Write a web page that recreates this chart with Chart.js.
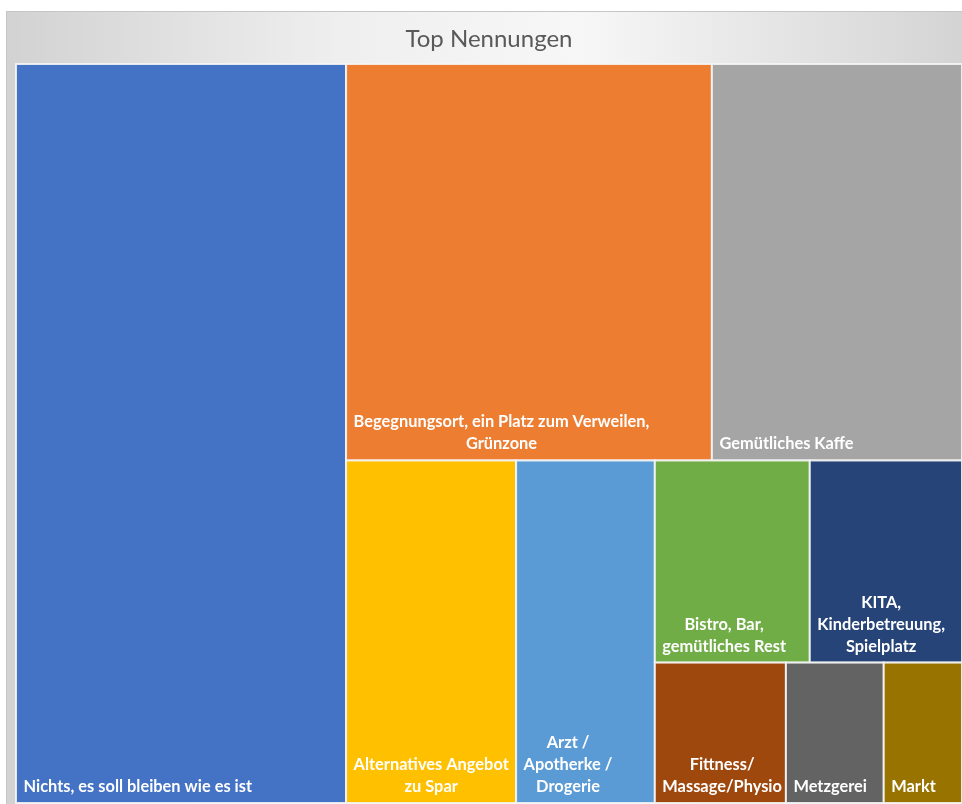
<!DOCTYPE html>
<html>
<head>
<meta charset="utf-8">
<script src="https://cdn.jsdelivr.net/npm/chart.js@4.4.1/dist/chart.umd.min.js"></script>
<style>
  html, body { margin: 0; padding: 0; background: #fff; }
  #wrap { width: 962px; height: 804px; }
</style>
</head>
<body>
<div id="wrap"><canvas id="treemapChart"></canvas></div>
<script>
// Top Nennungen – treemap (largest first)
const categories = [
  ['Nichts, es soll bleiben wie es ist'],
  ['Begegnungsort, ein Platz zum Verweilen,', 'Grünzone'],
  ['Gemütliches Kaffe'],
  ['Alternatives Angebot', 'zu Spar'],
  ['Arzt /', 'Apotherke /', 'Drogerie'],
  ['Bistro, Bar,', 'gemütliches Rest'],
  ['KITA,', 'Kinderbetreuung,', 'Spielplatz'],
  ['Fittness/', 'Massage/Physio'],
  ['Metzgerei'],
  ['Markt']
];
const values = [88.8, 52.8, 36.1, 21.2, 17.3, 11.4, 11.2, 6.7, 5, 4];
const cellColors = ['#4472C4', '#ED7D31', '#A5A5A5', '#FFC000', '#5B9BD5',
                    '#70AD47', '#264478', '#9E480E', '#636363', '#997300'];

function worstRatio(row, side) {
  const sum = row.reduce((s, it) => s + it.a, 0);
  const t = sum / side;
  return Math.max(...row.map(it => { const l = it.a / t; return Math.max(l / t, t / l); }));
}

// strip layout: wide region -> one item as a column, tall region -> row that grows while it gets squarer
function layoutCells(vals, w, h) {
  const total = vals.reduce((a, b) => a + b, 0);
  const items = vals.map((v, i) => ({ i, a: v * w * h / total }));
  const rects = [];
  let rx = 0, ry = 0, rw = w, rh = h, k = 0;
  while (k < items.length) {
    if (rw >= rh) {
      const cw = items[k].a / rh;
      rects[items[k].i] = { x: rx, y: ry, w: cw, h: rh };
      rx += cw; rw -= cw; k++;
    } else {
      let row = [items[k]], best = worstRatio(row, rw);
      while (k + row.length < items.length) {
        const next = row.concat(items[k + row.length]);
        const r = worstRatio(next, rw);
        if (r >= best) break;
        row = next; best = r;
      }
      const sh = row.reduce((s, it) => s + it.a, 0) / rw;
      let cx = rx;
      row.forEach(it => {
        const cw = it.a / sh;
        rects[it.i] = { x: cx, y: ry, w: cw, h: sh };
        cx += cw;
      });
      ry += sh; rh -= sh; k += row.length;
    }
  }
  return rects;
}

const panelBackground = {
  id: 'panelBackground',
  beforeDraw(chart) {
    const { ctx, width, height } = chart;
    ctx.save();
    ctx.fillStyle = '#ffffff';
    ctx.fillRect(0, 0, width, height);
    const g = ctx.createLinearGradient(6, 0, width, 0);
    g.addColorStop(0, '#d2d2d2');
    g.addColorStop(0.35, '#efefef');
    g.addColorStop(0.6, '#f7f7f7');
    g.addColorStop(1, '#d4d4d4');
    ctx.fillStyle = g;
    ctx.fillRect(6, 11, width - 6, height - 11);
    ctx.strokeStyle = '#c6c6c6';
    ctx.lineWidth = 1;
    ctx.beginPath();
    ctx.moveTo(6.5, height);
    ctx.lineTo(6.5, 11.5);
    ctx.lineTo(width, 11.5);
    ctx.stroke();
    ctx.restore();
  }
};

const treemapCells = {
  id: 'treemapCells',
  afterDatasetsDraw(chart) {
    const { ctx, chartArea, scales } = chart;
    const aw = chartArea.right - chartArea.left, ah = chartArea.bottom - chartArea.top;
    const rects = layoutCells(values, aw, ah);
    ctx.save();
    rects.forEach((r, i) => {
      const x0 = scales.x.getPixelForValue(r.x / aw);
      const x1 = scales.x.getPixelForValue((r.x + r.w) / aw);
      const y0 = scales.y.getPixelForValue(r.y / ah);
      const y1 = scales.y.getPixelForValue((r.y + r.h) / ah);
      ctx.fillStyle = cellColors[i];
      ctx.fillRect(x0, y0, x1 - x0, y1 - y0);
      ctx.strokeStyle = 'rgba(245,245,245,0.9)';
      ctx.lineWidth = 2;
      ctx.strokeRect(x0, y0, x1 - x0, y1 - y0);

      const lines = categories[i];
      ctx.font = 'bold 16.4px Lato';
      ctx.fillStyle = '#ffffff';
      ctx.textAlign = 'center';
      ctx.textBaseline = 'alphabetic';
      const blockW = Math.max(...lines.map(l => ctx.measureText(l).width));
      const cx = x0 + 7.5 + blockW / 2;
      lines.forEach((l, j) => {
        ctx.fillText(l, cx, y1 - 11 - (lines.length - 1 - j) * 22);
      });
    });
    ctx.restore();
  }
};

new Chart(document.getElementById('treemapChart'), {
  type: 'scatter',
  data: { datasets: [] },
  options: {
    responsive: true,
    maintainAspectRatio: false,
    animation: false,
    layout: { padding: { top: 25, left: 16, right: 0, bottom: 1 } },
    scales: {
      x: { type: 'linear', min: 0, max: 1, display: false },
      y: { type: 'linear', min: 0, max: 1, reverse: true, display: false }
    },
    plugins: {
      legend: { display: false },
      tooltip: { enabled: false },
      title: {
        display: true,
        text: 'Top Nennungen',
        color: '#595959',
        font: { family: 'Lato', size: 24, weight: 'normal', lineHeight: 1.2 },
        padding: { top: 0, bottom: 10.2 }
      }
    }
  },
  plugins: [panelBackground, treemapCells]
});
</script>
</body>
</html>
